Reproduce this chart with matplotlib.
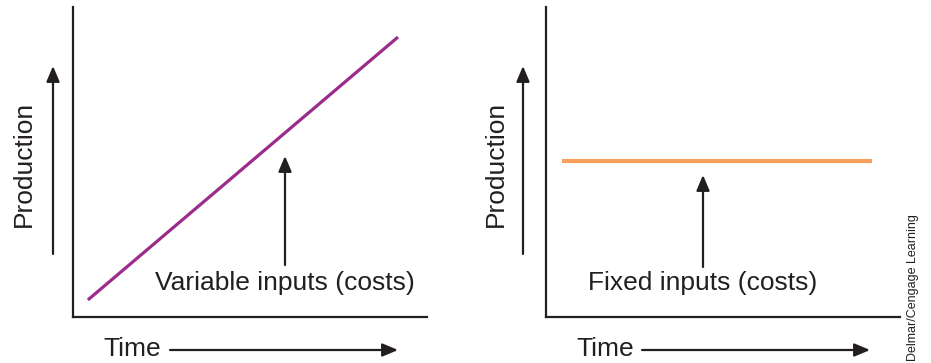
import matplotlib
matplotlib.use("Agg")
import matplotlib.pyplot as plt

plt.rcParams['font.family'] = ['Liberation Sans', 'DejaVu Sans']

# data
time_var = [0.42, 9.18]
production_var = [0.55, 9.03]
time_fix = [0.45, 9.2]
production_fix = [5.03, 5.03]
var_label = "Variable inputs (costs)"
fix_label = "Fixed inputs (costs)"
x_label = "Time"
y_label = "Production"
credit = "Delmar/Cengage Learning"

W, H = 931, 363
fig = plt.figure(figsize=(W / 100, H / 100), dpi=100)
ink = '#231f20'

def fx(px):
    return px / W

def fy(py):
    return 1 - py / H

def arrow(x0, y0, x1, y1, lw=1.6, hw=11, hl=13):
    fig.add_artist(matplotlib.patches.FancyArrowPatch(
        (fx(x0), fy(y0)), (fx(x1), fy(y1)), transform=fig.transFigure,
        arrowstyle=f'-|>,head_width={hw/2*0.72:.2f},head_length={hl*0.72:.2f}',
        mutation_scale=1, color=ink, lw=lw, shrinkA=0, shrinkB=0))

panels = [
    dict(left=73, right=427, x=time_var, y=production_var, color='#9c2c8c', lw=2.3,
         yarrow_x=53, ylab_x=24, ann_x=285, ann_tip=156, ann_bottom=265, txt=var_label,
         txt_x=285, time_x=132, tarrow=(170, 398)),
    dict(left=546, right=900, x=time_fix, y=production_fix, color='#f9a05c', lw=3.0,
         yarrow_x=523, ylab_x=496, ann_x=703, ann_tip=175, ann_bottom=267, txt=fix_label,
         txt_x=703, time_x=605, tarrow=(642, 870)),
]

top, bottom = 7, 317
for p in panels:
    ax = fig.add_axes([fx(p['left']), fy(bottom), (p['right'] - p['left']) / W, (bottom - top) / H])
    ax.set_xlim(0, 10)
    ax.set_ylim(0, 10)
    ax.plot(p['x'], p['y'], color=p['color'], lw=p['lw'], solid_capstyle='butt')
    for s in ['top', 'right']:
        ax.spines[s].set_visible(False)
    for s in ['left', 'bottom']:
        ax.spines[s].set_color(ink)
        ax.spines[s].set_linewidth(1.6)
    ax.set_xticks([])
    ax.set_yticks([])
    ax.patch.set_alpha(0)
    # y label and arrow
    fig.text(fx(p['ylab_x']), fy(164), y_label, rotation=90, ha='center', va='center',
             fontsize=19, color=ink)
    arrow(p['yarrow_x'], 254, p['yarrow_x'], 66)
    # annotation arrow and text
    arrow(p['ann_x'], p['ann_bottom'], p['ann_x'], p['ann_tip'])
    fig.text(fx(p['txt_x']), fy(283), p['txt'], ha='center', va='center', fontsize=19, color=ink)
    # time label and arrow
    fig.text(fx(p['time_x']), fy(349), x_label, ha='center', va='center', fontsize=19, color=ink)
    arrow(p['tarrow'][0], 350, p['tarrow'][1], 350)

fig.text(fx(913), fy(361), credit, rotation=90, ha='center', va='bottom', fontsize=9, color=ink)

fig.savefig('out.png', dpi=100, facecolor='white')
